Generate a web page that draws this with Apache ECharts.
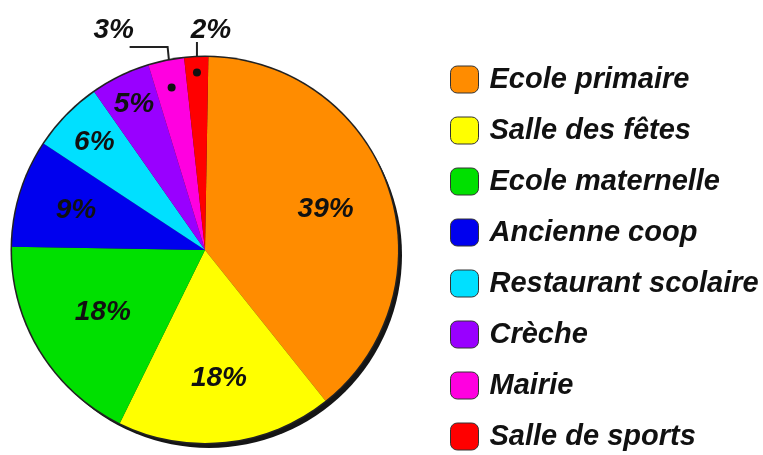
<!DOCTYPE html>
<html>
<head>
<meta charset="utf-8">
<script src="https://cdn.jsdelivr.net/npm/echarts@6/dist/echarts.min.js"></script>
<style>
  html, body { margin: 0; padding: 0; background: #fff; }
  #chart { width: 763px; height: 455px; }
</style>
</head>
<body>
<div id="chart"></div>
<script>
// data
var categories = ['Ecole primaire', 'Salle des fêtes', 'Ecole maternelle', 'Ancienne coop',
                  'Restaurant scolaire', 'Crèche', 'Mairie', 'Salle de sports'];
var values = [39, 18, 18, 9, 6, 5, 3, 2];
var colors = ['#ff8c00', '#ffff00', '#00e000', '#0000ee', '#00e0ff', '#9900ff', '#ff00e0', '#ff0000'];

// geometry of the pie
var cx = 205, cy = 250, R = 193, startAngle = 89;
// where the inside labels sit, as a fraction of radius
var labelDist = [0.66, 0.67, 0.62, 0.7, 0.8, 0.84];

var total = values.reduce(function (a, b) { return a + b; }, 0);
var mids = [];
var acc = 0;
values.forEach(function (v) {
    mids.push((90 - startAngle) + (acc + v / 2) / total * 360);
    acc += v;
});
function polar(f, deg) {
    var a = deg * Math.PI / 180;
    return [cx + f * R * Math.sin(a), cy - f * R * Math.cos(a)];
}

var labelFont = {
    color: '#111',
    fontSize: 28,
    fontWeight: 'bold',
    fontStyle: 'italic',
    fontFamily: 'Liberation Sans, Arial, sans-serif'
};

var pieData = categories.map(function (name, i) {
    var small = i >= 6;
    return {
        name: name,
        value: values[i],
        itemStyle: { color: colors[i] },
        label: { position: small ? 'outside' : 'inside' },
        labelLine: { show: small, lineStyle: { color: '#222', width: 2 } }
    };
});

var dotMairie = polar(0.86, mids[6]);
var dotSports = polar(0.92, mids[7]);

var chart = echarts.init(document.getElementById('chart'));
var option = {
    animation: false,
    legend: {
        orient: 'vertical',
        left: 450,
        top: 65,
        bottom: 0,
        padding: 0,
        itemWidth: 28,
        itemHeight: 27,
        itemGap: 22,
        selectedMode: false,
        data: categories,
        itemStyle: { borderColor: '#333', borderWidth: 1 },
        textStyle: {
            color: '#111',
            fontSize: 29,
            fontWeight: 'bold',
            fontStyle: 'italic',
            fontFamily: 'Liberation Sans, Arial, sans-serif',
            padding: [0, 0, 0, 6]
        }
    },
    graphic: [
        { type: 'circle', shape: { cx: dotMairie[0], cy: dotMairie[1], r: 4 }, style: { fill: '#111' }, z: 100 },
        { type: 'circle', shape: { cx: dotSports[0], cy: dotSports[1], r: 4 }, style: { fill: '#111' }, z: 100 }
    ],
    series: [
        {
            // drop shadow
            type: 'pie',
            silent: true,
            center: [cx + 4, cy + 5],
            radius: R,
            label: { show: false },
            labelLine: { show: false },
            data: [{ name: 'shadow', value: 1, itemStyle: { color: '#151515' } }]
        },
        {
            // thin outline
            type: 'pie',
            silent: true,
            center: [cx, cy],
            radius: R + 1.5,
            label: { show: false },
            labelLine: { show: false },
            data: [{ name: 'outline', value: 1, itemStyle: { color: '#222' } }]
        },
        {
            type: 'pie',
            center: [cx, cy],
            radius: R,
            startAngle: startAngle,
            clockwise: true,
            label: Object.assign({ show: true, formatter: '{c}%' }, labelFont),
            labelLayout: function (p) {
                var i = p.dataIndex;
                if (i === 6) {
                    var top = cy - R - 10;
                    return {
                        x: dotMairie[0] - 58, y: cy - R - 27,
                        align: 'center', verticalAlign: 'middle',
                        labelLinePoints: [dotMairie, [dotMairie[0] - 4, top], [dotMairie[0] - 42, top]]
                    };
                }
                if (i === 7) {
                    var top2 = cy - R - 15;
                    return {
                        x: dotSports[0] + 14, y: cy - R - 27,
                        align: 'center', verticalAlign: 'middle',
                        labelLinePoints: [dotSports, [dotSports[0], top2], [dotSports[0], top2]]
                    };
                }
                var pt = polar(labelDist[i], mids[i]);
                return { x: pt[0], y: pt[1], align: 'center', verticalAlign: 'middle' };
            },
            emphasis: { scale: false },
            data: pieData
        }
    ]
};
chart.setOption(option);
</script>
</body>
</html>
